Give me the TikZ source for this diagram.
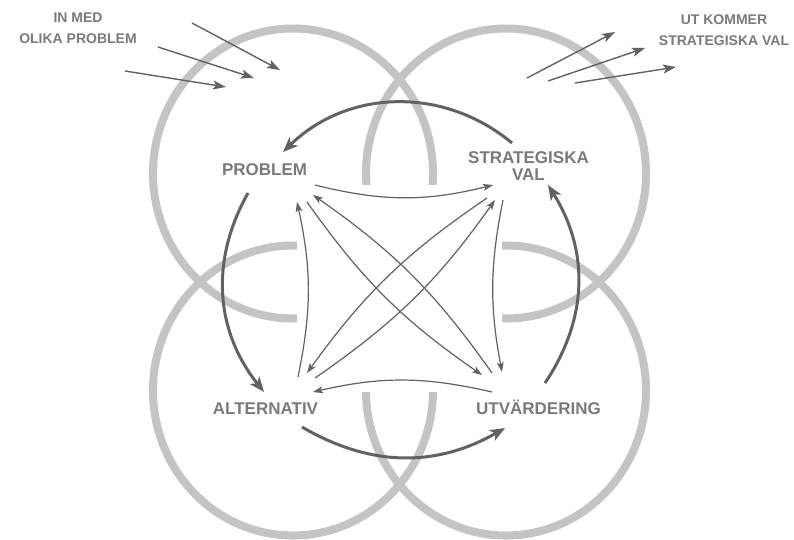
\documentclass[tikz,border=0pt]{standalone}
\usepackage{fontspec}
\setmainfont{Liberation Sans}
\usetikzlibrary{arrows.meta}
\definecolor{ringgray}{RGB}{196,196,196}
\definecolor{arrowgray}{RGB}{98,98,98}
\definecolor{labelgray}{RGB}{122,122,122}

\begin{document}
\begin{tikzpicture}[x=1pt,y=-1pt,
    ring/.style={draw=ringgray,line width=8pt},
    concept/.style={font=\fontsize{17}{16.5}\selectfont\bfseries,text=labelgray,
        inner sep=0pt,align=center},
    cornertext/.style={font=\fontsize{14}{21}\selectfont\bfseries,text=labelgray,
        inner sep=0pt,align=center},
    outerarrow/.style={draw=arrowgray,line width=3pt,
        -{Stealth[length=15pt,width=12pt,inset=4pt]}},
    innerarrow/.style={draw=arrowgray,line width=1.2pt,
        -{Stealth[length=10pt,width=7pt,inset=2.5pt]}},
    flowarrow/.style={draw=arrowgray,line width=1.4pt,
        -{Stealth[length=13pt,width=9pt,inset=3pt]}}
]
\useasboundingbox (0,0) rectangle (794,539);
% four rings, cleared in the middle
\draw[ring] (293,173.5) ellipse [x radius=140pt, y radius=145pt];
\draw[ring] (506,173.5) ellipse [x radius=140pt, y radius=145pt];
\draw[ring] (293,390.5) ellipse [x radius=140pt, y radius=145pt];
\draw[ring] (506,390.5) ellipse [x radius=140pt, y radius=145pt];
\fill[white] (297,185) rectangle (502,392);

\node[concept, anchor=base] (problem) at (264.5,175.5) {PROBLEM};
\node[concept] (strategi) at (528.5,166) {STRATEGISKA\\VAL};
\node[concept, anchor=base] (altern) at (265.5,414) {ALTERNATIV};
\node[concept, anchor=base] (utvard) at (538.5,414) {UTVÄRDERING};
\node[cornertext] (inmed) at (78,28.5) {IN MED\\OLIKA PROBLEM};
\node[cornertext] (utkommer) at (724,30) {UT KOMMER\\STRATEGISKA VAL};

% outer cycle
\coordinate (svTop) at (512,143);
\coordinate (prTop) at (283,152);
\coordinate (prLeft) at (248,193);
\coordinate (alLeft) at (264,392);
\coordinate (alLow) at (302,427);
\coordinate (utLow) at (505,428);
\coordinate (utRight) at (545,383);
\coordinate (svRight) at (548,185);
\draw[outerarrow] (svTop) to[bend right=42] (prTop);
\draw[outerarrow] (prLeft) to[bend right=34] (alLeft);
\draw[outerarrow] (alLow) to[bend right=30] (utLow);
\draw[outerarrow] (utRight) to[bend right=33] (svRight);

% inner links
\coordinate (prA) at (315,185);
\coordinate (svA) at (493,185);
\coordinate (utB) at (492,392);
\coordinate (alB) at (313,392);
\coordinate (alC) at (298,377);
\coordinate (prC) at (297,202);
\coordinate (svD) at (503,200);
\coordinate (utD) at (502,372);
\draw[innerarrow] (prA) to[bend right=14] (svA);
\draw[innerarrow] (utB) to[bend right=13] (alB);
\draw[innerarrow] (alC) to[bend right=12] (prC);
\draw[innerarrow] (svD) to[bend right=11] (utD);

% diagonals
\coordinate (utE) at (492,373);
\coordinate (prE) at (313,195);
\coordinate (prF) at (307,202);
\coordinate (utF) at (482,375);
\coordinate (alG) at (315,378);
\coordinate (svG) at (495,200);
\coordinate (svH) at (487,198);
\coordinate (alH) at (307,373);
\draw[innerarrow] (utE) to[bend right=10] (prE);
\draw[innerarrow] (prF) to[bend right=10] (utF);
\draw[innerarrow] (alG) to[bend right=10] (svG);
\draw[innerarrow] (svH) to[bend right=10] (alH);

% in and out
\coordinate (inA) at (192,23);   \coordinate (inAe) at (280,70);
\coordinate (inB) at (158,47);   \coordinate (inBe) at (254,78);
\coordinate (inC) at (125,71);   \coordinate (inCe) at (226,87);
\coordinate (outA) at (527,78);  \coordinate (outAe) at (615,32);
\coordinate (outB) at (548,81);  \coordinate (outBe) at (645,48);
\coordinate (outC) at (575,83);  \coordinate (outCe) at (676,67);
\draw[flowarrow] (inA) -- (inAe);
\draw[flowarrow] (inB) -- (inBe);
\draw[flowarrow] (inC) -- (inCe);
\draw[flowarrow] (outA) -- (outAe);
\draw[flowarrow] (outB) -- (outBe);
\draw[flowarrow] (outC) -- (outCe);
\end{tikzpicture}
\end{document}
